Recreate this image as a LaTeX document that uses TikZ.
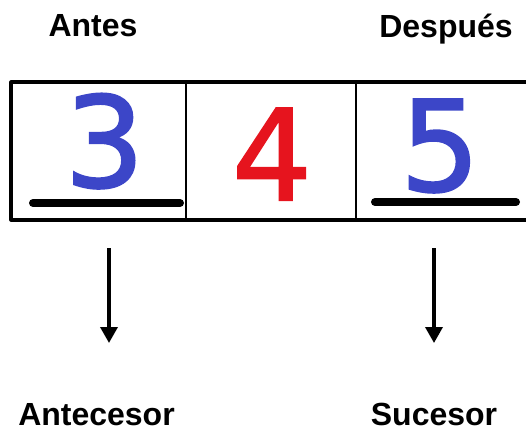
\documentclass[tikz,border=0pt]{standalone}
\usepackage{fontspec}
\setmainfont{Liberation Sans}
\newfontfamily\digitfont[FakeBold=1.6]{DejaVu Sans}
\usetikzlibrary{arrows.meta}
\definecolor{digblue}{HTML}{3C46C8}
\definecolor{digred}{HTML}{E6141E}
\tikzset{
  label/.style={font=\fontsize{32}{36}\selectfont\bfseries, anchor=base, inner sep=0pt},
  digit/.style={font=\fontsize{126}{126}\selectfont\digitfont, anchor=base, inner sep=0pt},
  cell/.style={draw, line width=1.8pt, minimum height=136pt, inner sep=0pt},
  under/.style={line width=8pt, line cap=round},
  arr/.style={line width=3.5pt, -{Triangle[width=17pt,length=16pt]}}
}
\begin{document}
\begin{tikzpicture}[x=1pt,y=-1pt]
\useasboundingbox (0,0) rectangle (526,434);
\node[cell, minimum width=174pt] (c3) at (99,151) {};
\node[cell, minimum width=170pt] (c4) at (271,151) {};
\node[cell, minimum width=174pt] (c5) at (443,151) {};
\draw[line width=3.5pt, line join=round] (c5.north east) -- (c3.north west) -- (c3.south west) -- (c5.south east);
\node[digit, text=digblue] (d3) at (104.5,187) {3};
\node[digit, text=digred] (d4) at (272,200) {4};
\node[digit, text=digblue] (d5) at (440,191) {5};
\coordinate (u3a) at (33,203); \coordinate (u3b) at (180,203);
\coordinate (u5a) at (375,202); \coordinate (u5b) at (516,202);
\draw[under] (u3a) -- (u3b);
\draw[under] (u5a) -- (u5b);
\node[label] (antes) at (93,36) {Antes};
\node[label] (despues) at (446,37) {Después};
\node[label] (antec) at (96.5,425) {Antecesor};
\node[label] (suc) at (434,425) {Sucesor};
\coordinate (a1s) at (109,248); \coordinate (a1e) at (109,343);
\coordinate (a2s) at (434,248); \coordinate (a2e) at (434,343);
\draw[arr] (a1s) -- (a1e);
\draw[arr] (a2s) -- (a2e);
\end{tikzpicture}
\end{document}
